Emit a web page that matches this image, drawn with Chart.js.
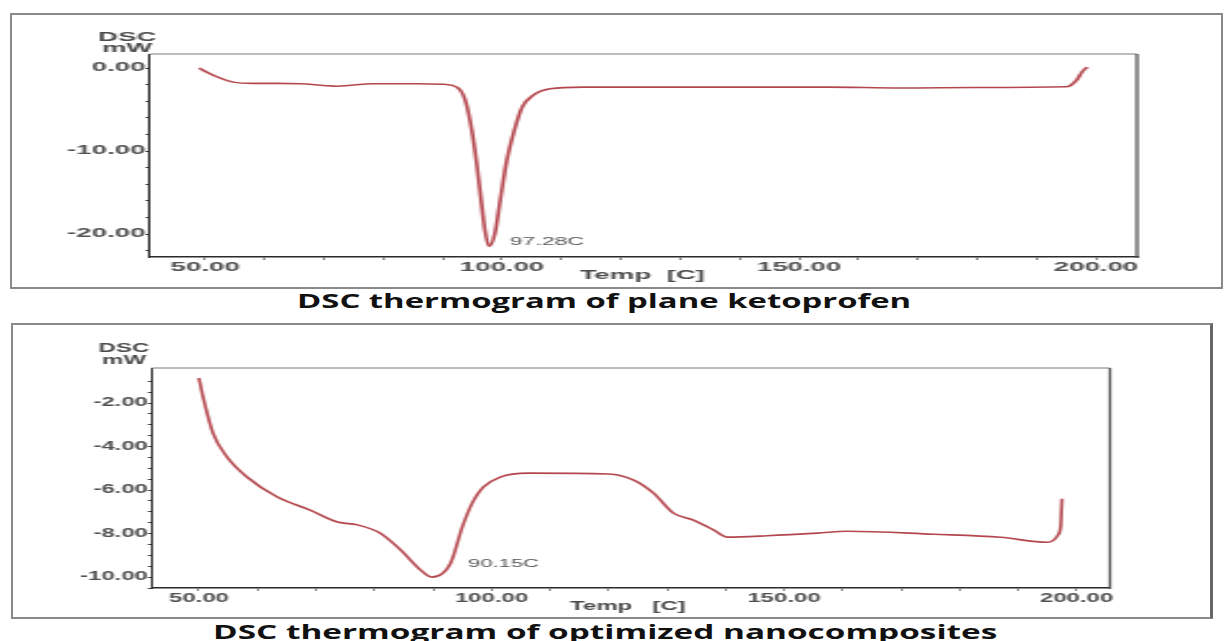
<!DOCTYPE html>
<html>
<head>
<meta charset="utf-8">
<script src="https://cdn.jsdelivr.net/npm/chart.js@4"></script>
<style>
body{margin:0;background:#fff;width:1224px;height:641px;overflow:hidden;position:relative}
.box{position:absolute;border:2px solid #8a8a8a;box-sizing:border-box}
.wrap{position:absolute;transform-origin:0 0}
.cap{position:absolute;font-family:"Open Sans";font-weight:700;font-size:19px;line-height:19px;color:#111;white-space:nowrap;transform-origin:0 0}
</style>
</head>
<body>
<div class="box" style="left:10px;top:13px;width:1213px;height:276px"></div>
<div class="wrap" style="left:10px;top:13px;transform:scaleX(2.3)"><canvas id="topCanvas" width="527" height="275"></canvas></div>
<div class="cap" id="cap1" style="top:292px">DSC thermogram of plane ketoprofen</div>

<div class="box" style="left:11px;top:323px;width:1202px;height:296px;border-right:3px solid #666"></div>
<div class="wrap" style="left:11px;top:323px;transform:scaleX(2)"><canvas id="bottomCanvas" width="600" height="295"></canvas></div>
<div class="cap" id="cap2" style="top:623px">DSC thermogram of optimized nanocomposites</div>

<script>
// plain ketoprofen
const ketoTemp = [49.0, 50.3, 52.5, 54.7, 58.0, 62.0, 66.0, 70.0, 72.2, 75.0, 78.0, 85.7, 90.0, 92.4, 93.8, 95.0, 95.8, 96.6, 97.1, 97.8,
  98.8, 99.7, 100.8, 101.9, 103.4, 105.2, 108.1, 113.6, 130.0, 155.0, 167.0, 180.0, 195.1, 196.8, 197.6, 198.5];
const ketoDsc = [0.0, -0.5, -1.2, -1.7, -1.85, -1.85, -1.9, -2.1, -2.2, -2.05, -1.9, -1.9, -1.95, -2.3, -3.9, -7.9, -11.9, -16.7, -19.5, -21.5,
  -19.9, -15.9, -11.1, -7.9, -4.7, -3.3, -2.5, -2.3, -2.3, -2.3, -2.4, -2.35, -2.25, -1.4, -0.5, 0.1];

// optimized nanocomposites
const nanoTemp = [50.0, 50.7, 52.4, 54.8, 58.2, 63.4, 69.0, 73.7, 77.1, 81.0, 84.5, 87.9, 89.8, 93.0, 95.0, 96.7, 98.6, 101.5, 106.2, 120.0,
  124.3, 127.7, 131.1, 134.5, 138.0, 140.3, 147.1, 155.7, 160.8, 175.5, 187.0, 195.0, 196.8, 197.3, 197.4, 197.5];
const nanoDsc = [-0.85, -1.72, -3.38, -4.48, -5.40, -6.32, -6.92, -7.47, -7.6, -7.98, -8.76, -9.68, -10.0, -9.36, -7.7, -6.6, -5.86, -5.4, -5.22, -5.26,
  -5.54, -6.14, -7.06, -7.38, -7.84, -8.16, -8.1, -7.98, -7.89, -8.03, -8.17, -8.4, -8.07, -7.6, -7.0, -6.4];

const tempTicks = [50, 60, 70, 80, 90, 100, 110, 120, 130, 140, 150, 160, 170, 180, 190, 200];
const tempLabels = [50, 100, 150, 200];
const ketoTicks = [0, -2, -4, -6, -8, -10, -12, -14, -16, -18, -20, -22];
const ketoLabels = [0, -10, -20];
const nanoTicks = [-1, -1.5, -2, -2.5, -3, -3.5, -4, -4.5, -5, -5.5, -6, -6.5, -7, -7.5, -8, -8.5, -9, -9.5, -10, -10.5];
const nanoLabels = [-2, -4, -6, -8, -10];

const lineColor = '#b4474e';
const tickFont = {family: 'Liberation Sans', size: 12, weight: 'bold'};

const decor = {
  id: 'decor',
  afterDraw(chart, args, o) {
    const ctx = chart.ctx, a = chart.chartArea, x = chart.scales.x, y = chart.scales.y;
    ctx.save();
    ctx.strokeStyle = '#7a7a7a'; ctx.lineWidth = 1;
    ctx.beginPath(); ctx.moveTo(a.left, a.top); ctx.lineTo(a.right, a.top); ctx.stroke();
    ctx.strokeStyle = '#555'; ctx.lineWidth = 1.3;
    ctx.beginPath(); ctx.moveTo(a.right, a.top); ctx.lineTo(a.right, a.bottom + 1); ctx.stroke();

    ctx.fillStyle = '#4a4a4a';
    ctx.textAlign = 'center'; ctx.textBaseline = 'middle';
    ctx.font = 'bold 12px "Liberation Sans"';
    ctx.fillText('DSC', a.left - o.dscDx, a.top - o.dscDy);
    ctx.fillText('mW', a.left - o.dscDx, a.top - o.mwDy);
    ctx.fillText(o.xTitle, x.getPixelForValue(o.xTitleAt), a.bottom + 19);

    ctx.textAlign = 'left';
    ctx.font = o.peakFont;
    ctx.fillStyle = '#555';
    ctx.fillText(o.peakText, x.getPixelForValue(o.peakAt[0]), y.getPixelForValue(o.peakAt[1]));
    ctx.restore();
  }
};

function makeChart(id, temps, dsc, xr, yr, yTicks, yLabels, pad, yWidth, xHeight, deco) {
  const pts = temps.map((t, i) => ({x: t, y: dsc[i]}));
  return new Chart(document.getElementById(id).getContext('2d'), {
    type: 'line',
    data: {datasets: [{data: pts, borderColor: lineColor, borderWidth: 1.6, pointRadius: 0, fill: false, cubicInterpolationMode: 'monotone'}]},
    options: {
      responsive: false,
      animation: false,
      layout: {padding: pad},
      plugins: {legend: {display: false}, tooltip: {enabled: false}, decor: deco},
      scales: {
        x: {
          type: 'linear', min: xr[0], max: xr[1],
          afterBuildTicks: s => { s.ticks = tempTicks.map(v => ({value: v})); },
          afterFit: s => { s.height = xHeight; },
          border: {color: '#2a2a2a', width: 1.6},
          grid: {drawOnChartArea: false, color: '#333', tickLength: 3, tickWidth: 0.6},
          ticks: {autoSkip: false, maxRotation: 0, padding: 0, color: '#505050', font: tickFont,
            callback: v => tempLabels.includes(v) ? v.toFixed(2) : ''}
        },
        y: {
          type: 'linear', min: yr[0], max: yr[1],
          afterBuildTicks: s => { s.ticks = yTicks.map(v => ({value: v})); },
          afterFit: s => { s.width = yWidth; },
          border: {color: '#2a2a2a', width: 1},
          grid: {drawOnChartArea: false, color: '#333', tickLength: 2, tickWidth: 1},
          ticks: {autoSkip: false, padding: 0, color: '#505050', font: tickFont,
            callback: v => yLabels.includes(v) ? v.toFixed(2) : ''}
        }
      }
    },
    plugins: [decor]
  });
}

makeChart('topCanvas', ketoTemp, ketoDsc, [40.74, 206.9], [-22.77, 1.69], ketoTicks, ketoLabels,
  {left: 0, top: 41, right: 37, bottom: 0}, 60.9, 31,
  {dscDx: 10, dscDy: 16, mwDy: 5, xTitle: 'Temp  [C]', xTitleAt: 123.6,
   peakText: '97.28C', peakAt: [101.3, -21.0], peakFont: '10px "Liberation Sans"'});

makeChart('bottomCanvas', nanoTemp, nanoDsc, [41.97, 205.7], [-10.5, -0.39], nanoTicks, nanoLabels,
  {left: 0, top: 45, right: 50.5, bottom: 0}, 70.5, 30,
  {dscDx: 14, dscDy: 19, mwDy: 7, xTitle: 'Temp   [C]', xTitleAt: 123.3,
   peakText: '90.15C', peakAt: [96.0, -9.4], peakFont: '11px "Liberation Sans"'});

// stretch the captions to the width they take in the figure
function fitCaption(id, centre, width) {
  const el = document.getElementById(id);
  const w = el.offsetWidth;
  const s = width / w;
  el.style.left = (centre - width / 2) + 'px';
  el.style.transform = 'scaleX(' + s + ')';
}
fitCaption('cap1', 604, 615);
fitCaption('cap2', 605, 784);
</script>
</body>
</html>
